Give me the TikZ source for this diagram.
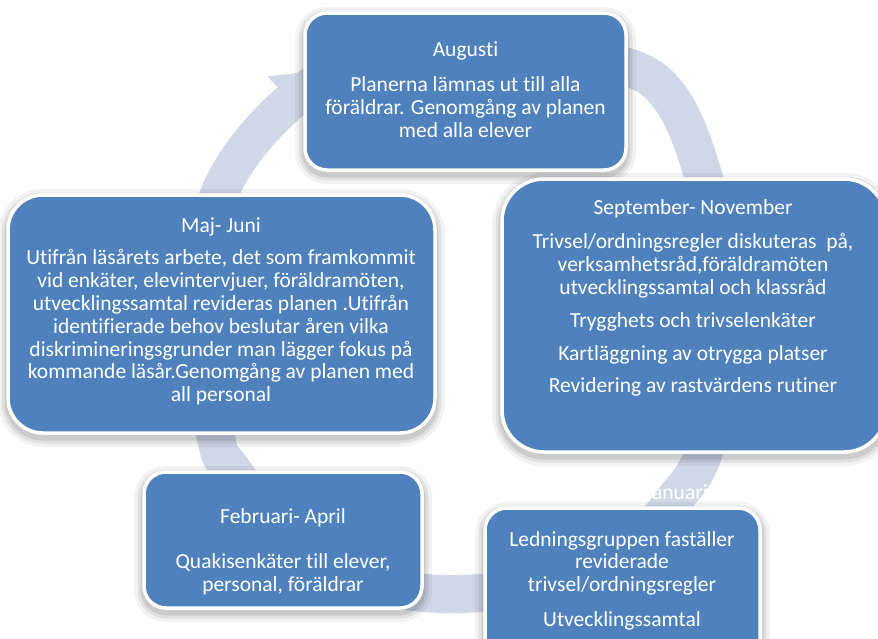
\documentclass[tikz,border=0pt]{standalone}
\usepackage{fontspec}
\setmainfont{Carlito}[Ligatures={NoCommon}]
\definecolor{boxblue}{RGB}{79,129,189}
\definecolor{ringblue}{RGB}{208,216,232}
\begin{document}
\begin{tikzpicture}[x=1pt,y=-1pt,
  shadowed/.style={
    preaction={draw=black, draw opacity=0.05, line width=20pt, fill=none, transform canvas={yshift=-4pt}},
    preaction={draw=black, draw opacity=0.07, line width=13pt, fill=none, transform canvas={yshift=-4pt}},
    preaction={draw=black, draw opacity=0.09, line width=7pt, fill=none, transform canvas={yshift=-4pt}}},
  stagebox/.style={shape=rectangle, draw=white, line width=3.5pt, fill=boxblue, shadowed, inner sep=0pt},
  txt/.style={text=white, font=\fontsize{21.5}{22.8}\selectfont, align=center, inner sep=0pt, anchor=north},
  ringline/.style={draw=ringblue, line width=38pt}
]
\clip (0,0) rectangle (878,638);
\fill[white] (0,0) rectangle (878,638);

% ring
\draw[ringline] plot[smooth cycle, tension=0.6] coordinates {
  (291,101) (370,62) (465,50) (565,56) (656,82) (703,175) (726,315) (706,445)
  (674,500) (630,545) (550,580) (460,594) (370,583) (290,540) (231,468)
  (216,438) (196,315) (221,190)};
\fill[ringblue] (267.5,76.5) -- (323,70) -- (314.5,125.5) -- cycle;

% hidden title of the Januari stage (only visible over the ring)
\node[txt] (jant) at (676.5,483) {\strut Januari};

% boxes
\node[stagebox, rounded corners=22pt, minimum width=321pt, minimum height=157pt] (aug) at (465.5,91.5) {};
\node[stagebox, rounded corners=42pt, minimum width=384pt, minimum height=273pt] (sep) at (694,315.5) {};
\node[stagebox, rounded corners=35pt, minimum width=427pt, minimum height=238pt] (maj) at (221.5,314) {};
\node[stagebox, rounded corners=22pt, minimum width=278pt, minimum height=136pt] (feb) at (283,540) {};
\node[stagebox, rounded corners=22pt, minimum width=275pt, minimum height=160pt] (jan) at (622.5,588) {};

% texts
\node[txt] (augt) at (465.5,40) {\strut Augusti\\[13pt]
  Planerna lämnas ut till alla\\
  föräldrar. Genomgång av planen\\
  med alla elever};
\node[txt] (sept) at (693,198) {\strut September- November\\[12pt]
  Trivsel/ordningsregler diskuteras\ \ på,\\
  verksamhetsråd,föräldramöten\\
  utvecklingssamtal och klassråd\\[10pt]
  Trygghets och trivselenkäter\\[10pt]
  Kartläggning av otrygga platser\\[10pt]
  Revidering av rastvärdens rutiner};
\node[txt] (majt) at (221,216) {\strut Maj- Juni\\[10pt]
  Utifrån läsårets arbete, det som framkommit\\
  vid enkäter, elevintervjuer, föräldramöten,\\
  utvecklingssamtal revideras planen .Utifrån\\
  identifierade behov beslutar åren vilka\\
  diskrimineringsgrunder man lägger fokus på\\
  kommande läsår.Genomgång av planen med\\
  all personal};
\node[txt] (febt) at (283,507) {\strut Februari- April\\[23pt]
  Quakisenkäter till elever,\\
  personal, föräldrar};
\node[txt] (jant2) at (622,530) {\strut Ledningsgruppen faställer\\
  reviderade\\
  trivsel/ordningsregler\\[12pt]
  Utvecklingssamtal};
\end{tikzpicture}
\end{document}
